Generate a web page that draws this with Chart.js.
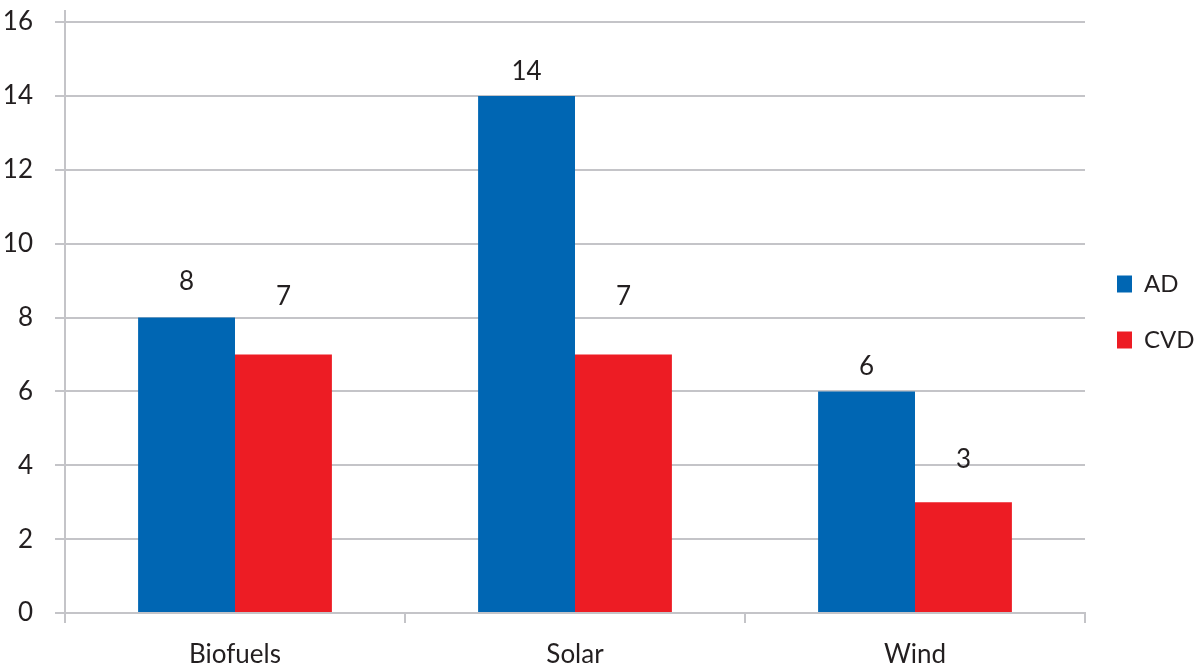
<!DOCTYPE html>
<html>
<head>
<meta charset="utf-8">
<script src="https://cdn.jsdelivr.net/npm/chart.js@4.4.1/dist/chart.umd.min.js"></script>
<style>
  html, body { margin: 0; padding: 0; background: #fff; }
  #wrap { width: 1195px; height: 666px; position: relative; }
</style>
</head>
<body>
<div id="wrap"><canvas id="c"></canvas></div>
<script>
// ---- data ----
const categories = ['Biofuels', 'Solar', 'Wind'];
const seriesNames = ['AD', 'CVD'];
const adValues = [8, 14, 6];
const cvdValues = [7, 7, 3];
const yTicks = [0, 2, 4, 6, 8, 10, 12, 14, 16];

const FONT = 'Lato, "Open Sans", sans-serif';
const FSIZE = 26;
const TEXT = '#231f20';
const GRID = '#c4c4c8';

// value labels, drawn above each bar
const valueLabels = {
  id: 'valueLabels',
  afterDatasetsDraw(chart, args, opts) {
    const ctx = chart.ctx;
    ctx.save();
    ctx.font = FSIZE + 'px ' + FONT;
    ctx.fillStyle = TEXT;
    ctx.textAlign = 'center';
    ctx.textBaseline = 'middle';
    chart.data.datasets.forEach((ds, di) => {
      const meta = chart.getDatasetMeta(di);
      meta.data.forEach((bar, i) => {
        const lift = opts.lift[di][i];
        ctx.fillText(String(ds.data[i]), bar.x, bar.y - lift);
      });
    });
    ctx.restore();
  }
};

// y axis line that rises a little above the top gridline
const axisExtend = {
  id: 'axisExtend',
  afterDraw(chart) {
    const ctx = chart.ctx;
    const a = chart.chartArea;
    ctx.save();
    ctx.strokeStyle = GRID;
    ctx.lineWidth = 2;
    ctx.beginPath();
    ctx.moveTo(a.left, a.top - 12);
    ctx.lineTo(a.left, a.top);
    ctx.stroke();
    ctx.restore();
  }
};

// nudge the legend block upward
const legendShift = {
  id: 'legendShift',
  afterLayout(chart, args, opts) {
    const lg = chart.legend;
    if (lg) { lg.top -= opts.dy; lg.bottom -= opts.dy; }
  }
};

new Chart(document.getElementById('c'), {
  type: 'bar',
  data: {
    labels: categories,
    datasets: [
      { label: seriesNames[0], data: adValues, backgroundColor: '#0066b3', borderWidth: 0 },
      { label: seriesNames[1], data: cvdValues, backgroundColor: '#ed1c24', borderWidth: 0 }
    ]
  },
  plugins: [valueLabels, axisExtend, legendShift],
  options: {
    responsive: true,
    maintainAspectRatio: false,
    animation: false,
    devicePixelRatio: 1,
    layout: { padding: { top: 22, right: 0, left: 0, bottom: 0 } },
    datasets: { bar: { categoryPercentage: 0.57, barPercentage: 1.0 } },
    scales: {
      x: {
        afterFit(scale) { scale.height = 53; scale.paddingLeft = 0; scale.paddingRight = 0; },
        grid: { display: true, drawOnChartArea: false, drawTicks: true, tickLength: 10, color: GRID, lineWidth: 2, offset: true },
        border: { display: true, color: GRID, width: 2 },
        ticks: { color: TEXT, font: { family: FONT, size: FSIZE }, padding: 16 }
      },
      y: {
        min: 0,
        max: 16,
        afterFit(scale) { scale.width = 65; scale.paddingTop = 0; scale.paddingBottom = 0; },
        afterBuildTicks(scale) { scale.ticks = yTicks.map(v => ({ value: v })); },
        grid: { color: GRID, lineWidth: 2, tickLength: 10 },
        border: { display: true, color: GRID, width: 2 },
        ticks: { color: TEXT, font: { family: FONT, size: FSIZE }, padding: 22 }
      }
    },
    plugins: {
      legend: {
        position: 'right',
        align: 'center',
        maxWidth: 110,
        labels: {
          color: TEXT,
          font: { family: FONT, size: 24 },
          boxWidth: 15,
          boxHeight: 17,
          padding: 32
        }
      },
      legendShift: { dy: 32 },
      tooltip: { enabled: false },
      valueLabels: { lift: [[36, 24, 25], [58, 58, 43]] }
    }
  }
});
</script>
</body>
</html>
